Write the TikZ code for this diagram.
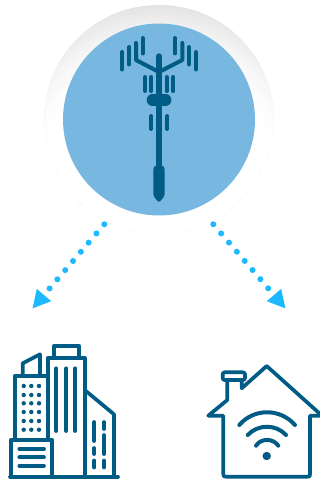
\documentclass[tikz,border=0pt]{standalone}
\usetikzlibrary{arrows.meta}
\definecolor{cellblue}{RGB}{120,184,224}
\definecolor{icon}{RGB}{0,92,133}
\definecolor{signal}{RGB}{28,185,255}
\begin{document}
\begin{tikzpicture}[
    x=1pt, y=-1pt,
    mast/.style={draw=icon, line width=4pt, line cap=round},
    outline/.style={draw=icon, line width=3.7pt, line join=round, line cap=round},
    flow/.style={draw=signal, line width=6pt, line cap=round,
      dash pattern=on 0pt off 12.05pt,
      -{Triangle[length=18pt, width=17.5pt, fill=signal]}}
]
  \useasboundingbox (0,0) rectangle (320,479);

  % halo behind the circle
  \begin{scope}
    \clip (159,119.5) circle (114.5);
    \foreach \r in {176,174,...,118} {
      \pgfmathsetmacro{\shadepct}{11*((\r-118)/58)^1.5}
      \fill[black!\shadepct!white] (159,180) circle (\r);
    }
  \end{scope}

  % tower circle
  \node[circle, fill=cellblue, minimum size=192pt, inner sep=0pt] (cell) at (159,119.5) {};

  % mast
  \draw[mast, line width=6.4pt] (159,56.5) -- (159,120);
  \draw[mast, line width=5.4pt] (159,120) -- (159,175);
  \draw[mast, line width=11.7pt] (152.5,100) -- (165.5,100);
  \fill[icon, rounded corners=2pt] (153.3,172) .. controls (153.3,163) and (164.7,163) .. (164.7,172)
    -- (164.7,196) -- (159,202.5) -- (153.3,196) -- cycle;
  \draw[mast, line join=round] (136,43) -- (136,60) -- (159,72) -- (182.3,60) -- (182.3,43);

  % antennas
  \foreach \xa/\ya/\yb in {142.7/38/53.5, 175/38/53.5, 129.3/47/64.5, 189/47/64.5,
      122.3/52/69.5, 195.7/52/69.5, 145/77/91, 151.3/77/91, 166.7/77/91, 173.3/77/91,
      151/116/129, 167/116/129}
    \draw[mast] (\xa,\ya) -- (\xa,\yb);

  % arrows
  \coordinate (leftstart) at (104.3,224.3);
  \coordinate (lefthead) at (32.3,308.7);
  \coordinate (rightstart) at (213.3,224.3);
  \coordinate (righthead) at (285.7,308.7);
  \draw[flow] (leftstart) -- (lefthead);
  \draw[flow] (rightstart) -- (righthead);

  % building
  \draw[outline] (10,476.7) -- (118,476.7);
  \draw[outline] (10.7,440) rectangle (52.3,476.7);
  \draw[outline] (15,440) -- (15,375.7) -- (46.7,375.7);
  \draw[outline] (22.7,375.7) -- (22.7,363.3) -- (40,354.3) -- (40,375.7);
  \draw[outline] (47.7,440) -- (47.7,358.3) -- (84.7,358.3) -- (84.7,476.7);
  \draw[outline] (54,357.7) -- (54,345.7) -- (78.7,345.7) -- (78.7,357.7);
  \draw[outline] (84.7,390) -- (114,414.3) -- (114,476.7);
  \foreach \ya in {449,457.3,465.7}
    \draw[outline] (19.3,\ya) -- (44,\ya);
  \foreach \xa in {56.3,66.3,75.3}
    \draw[outline] (\xa,368.3) -- (\xa,431);
  \foreach \xa/\ya/\yb in {94.3/422/441, 94.3/448/454, 94.3/460.5/467.5,
      104/422/429, 104/435/454, 104/460.5/467.5}
    \draw[outline] (\xa,\ya) -- (\xa,\yb);
  \foreach \xa in {23.7,31.3,39}
    \foreach \ya in {386,395,403.3,412,421,429.7}
      \fill[icon] (\xa,\ya) circle (2.2);

  % house
  \draw[outline] (208.3,415.7) -- (223.3,415.7) -- (223.3,473.7)
    .. controls (223.3,476.7) .. (226.3,476.7)
    -- (307,476.7) .. controls (310,476.7) .. (310,473.7) -- (310,415.7) -- (322,415.7)
    -- (266.7,366) -- (241.7,388.3) -- (241.7,380);
  \draw[outline] (227.3,380) -- (227.3,400) -- (208.3,415.7);
  \draw[outline, rounded corners=2pt] (222.7,372.3) rectangle (245,380);

  % wifi
  \draw[mast] (239.3,425) .. controls (254,408) and (280,408) .. (295,425);
  \draw[mast] (247.7,435) .. controls (258,424) and (276,424) .. (286,435);
  \draw[mast] (256,445.7) .. controls (261,438) and (273,438) .. (278.3,445.7);
  \fill[icon] (266.7,456) circle (4.2);
\end{tikzpicture}
\end{document}
